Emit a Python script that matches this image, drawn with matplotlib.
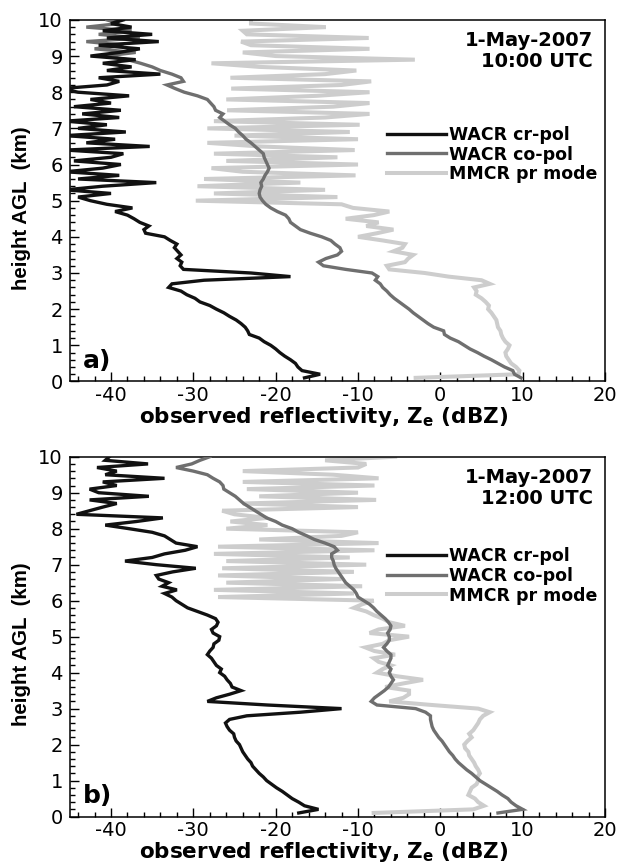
#!/usr/bin/env python3
"""
Radar reflectivity profiles
WACR cross-pol / co-pol and MMCR profiles for 1-May-2007, two times.
"""

import numpy as np
import matplotlib
matplotlib.use('Agg')
import matplotlib.pyplot as plt
from matplotlib.ticker import MultipleLocator

plt.rcParams['font.family'] = ['DejaVu Sans']
plt.rcParams['mathtext.fontset'] = 'dejavusans'
plt.rcParams['axes.unicode_minus'] = False

# range gates (km AGL), 0.1 km spacing
heights = np.linspace(0.1, 10.0, 100)

# ---- 10:00 UTC ----
a_cr_pol = [
    -16.5, -14.6, -16.8, -17.3, -17.6, -18.2, -18.9, -19.5, -20.0, -20.6,
    -21.4, -22.0, -23.2, -23.4, -23.7, -24.2, -24.8, -25.6, -26.3, -27.2,
    -28.0, -29.2, -29.8, -30.8, -31.5, -33.0, -32.6, -28.7, -18.2, -23.0,
    -31.2, -31.6, -31.4, -32.0, -31.5, -31.9, -32.3, -32.0, -32.8, -33.5,
    -35.8, -36.0, -35.4, -36.5, -37.2, -38.0, -39.5, -37.4, -40.5, -42.5,
    -44.0, -40.0, -45.5, -41.0, -34.5, -44.0, -39.0, -45.5, -41.0, -38.8,
    -44.5, -40.0, -38.5, -45.5, -35.3, -43.0, -39.5, -45.5, -38.2, -44.0,
    -40.5, -45.5, -39.0, -43.5, -38.8, -44.5, -40.0, -42.5, -37.8, -44.0,
    -46.0, -40.5, -39.0, -41.5, -34.0, -40.5, -37.5, -41.0, -37.0, -42.5,
    -39.0, -36.5, -41.5, -34.2, -40.5, -35.0, -41.0, -37.5, -40.0, -38.5,
]
a_co_pol = [
    9.8, 9.0, 8.8, 7.8, 7.0, 6.2, 5.3, 4.5, 3.6, 2.9,
    2.2, 1.2, 0.5, 0.4, -0.8, -1.5, -2.1, -2.7, -3.3, -3.8,
    -4.4, -5.0, -5.6, -6.1, -6.5, -7.0, -7.3, -7.9, -7.6, -8.3,
    -11.5, -14.2, -14.8, -13.9, -12.5, -12.0, -12.2, -12.8, -13.3, -14.4,
    -15.8, -17.0, -17.6, -18.2, -18.4, -18.8, -19.8, -20.6, -21.2, -21.6,
    -21.9, -22.0, -21.9, -21.7, -21.8, -21.5, -21.3, -21.0, -20.8, -21.0,
    -21.2, -21.4, -21.5, -22.0, -22.5, -23.0, -23.6, -24.0, -24.5, -24.9,
    -25.6, -26.2, -26.8, -26.4, -27.3, -27.5, -27.9, -28.3, -29.5, -31.1,
    -32.2, -33.2, -31.2, -31.5, -32.6, -34.0, -35.0, -36.4, -38.0, -40.7,
    -37.0, -42.0, -38.5, -43.0, -36.5, -41.5, -37.5, -43.0, -39.0, -40.5,
]
a_mmcr = [
    -3.0, 9.5, 9.6, 9.2, 8.6, 8.3, 8.0, 7.9, 8.2, 8.4,
    7.9, 7.6, 7.4, 7.3, 7.0, 6.9, 6.8, 6.5, 6.2, 5.8,
    5.9, 5.5, 5.0, 4.3, 4.4, 4.1, 6.0, 5.0, 1.0, -1.9,
    -6.2, -6.5, -4.3, -3.9, -3.3, -5.7, -4.6, -4.3, -7.0, -10.0,
    -7.7, -5.7, -9.0, -7.5, -11.5, -8.1, -6.2, -10.6, -12.0, -29.7,
    -12.5, -27.5, -14.0, -29.5, -17.0, -28.7, -10.3, -24.0, -27.8, -10.0,
    -26.0, -12.5, -27.5, -10.4, -22.0, -28.3, -10.0, -25.0, -11.0, -28.3,
    -9.8, -27.5, -14.0, -8.6, -25.9, -13.0, -8.6, -26.0, -15.0, -8.6,
    -25.4, -12.0, -8.4, -25.5, -14.0, -10.2, -22.0, -27.8, -3.1, -20.0,
    -24.0, -8.6, -23.0, -24.2, -8.7, -23.5, -24.0, -13.9, -23.0, -23.0,
]

# ---- 12:00 UTC ----
b_cr_pol = [
    -17.2, -14.8, -16.5, -17.2, -18.0, -18.6, -19.2, -19.9, -20.5, -21.1,
    -21.5, -22.0, -22.4, -22.8, -23.0, -23.4, -23.7, -24.0, -24.2, -24.4,
    -24.8, -25.0, -25.1, -25.6, -25.9, -26.1, -25.6, -23.5, -17.0, -12.0,
    -21.0, -28.3, -27.2, -25.6, -24.2, -25.3, -25.5, -25.9, -26.2, -26.8,
    -26.6, -27.2, -27.5, -27.8, -28.3, -28.0, -27.6, -27.5, -26.9, -26.8,
    -27.6, -27.8, -27.2, -27.0, -27.3, -28.3, -29.5, -30.7, -31.4, -32.1,
    -32.6, -33.5, -32.0, -33.8, -33.0, -34.2, -34.5, -32.5, -29.7, -34.5,
    -38.3, -35.0, -33.5, -31.0, -29.5, -32.1, -32.8, -33.5, -35.0, -37.8,
    -40.7, -36.9, -33.7, -44.2, -42.6, -41.0, -39.3, -42.6, -35.4, -41.5,
    -42.6, -39.3, -41.0, -33.5, -40.7, -39.3, -41.7, -35.5, -40.7, -40.2,
]
b_co_pol = [
    7.0, 10.0, 9.2, 8.6, 8.2, 7.5, 6.9, 6.2, 5.5, 4.8,
    4.3, 3.8, 3.2, 2.7, 2.2, 1.8, 1.5, 1.1, 0.8, 0.5,
    0.2, -0.2, -0.5, -0.8, -1.0, -1.1, -1.2, -1.2, -1.8, -3.0,
    -7.7, -8.4, -8.0, -7.4, -6.8, -6.3, -6.0, -5.7, -6.0, -6.2,
    -6.0, -6.4, -6.2, -6.0, -6.0, -6.5, -6.9, -6.5, -6.2, -6.2,
    -6.4, -6.1, -6.0, -6.3, -6.7, -7.2, -7.7, -8.1, -8.6, -9.3,
    -10.0, -10.2, -10.5, -11.0, -11.5, -11.8, -12.1, -12.4, -12.7, -12.9,
    -13.0, -13.2, -13.2, -12.5, -12.9, -14.0, -15.3, -16.2, -17.2, -18.0,
    -19.2, -20.0, -21.1, -21.8, -22.5, -23.2, -23.9, -24.4, -24.9, -25.6,
    -26.3, -26.4, -26.8, -27.6, -28.3, -30.0, -32.1, -30.2, -29.2, -28.0,
]
b_mmcr = [
    -8.1, 4.0, 5.3, 4.6, 4.2, 3.4, 3.6, 3.8, 4.4, 4.6,
    4.5, 4.8, 4.6, 4.3, 4.1, 3.8, 3.5, 3.4, 3.0, 2.9,
    3.3, 3.8, 3.5, 4.0, 4.3, 4.6, 4.8, 5.2, 6.0, 4.6,
    -1.0, -6.2, -4.5, -3.8, -3.8, -6.7, -4.5, -2.1, -5.3, -7.7,
    -7.0, -6.0, -7.5, -8.1, -5.5, -8.0, -9.1, -7.0, -6.2, -3.8,
    -8.6, -7.5, -4.3, -6.2, -7.0, -8.1, -9.0, -10.5, -9.5, -8.1,
    -27.0, -10.5, -27.5, -9.5, -26.0, -12.0, -27.0, -10.5, -26.5, -9.0,
    -26.0, -11.0, -27.5, -8.0, -27.0, -7.5, -22.0, -12.0, -10.0, -26.0,
    -21.0, -25.5, -21.0, -25.0, -26.5, -10.0, -24.0, -7.8, -22.0, -10.0,
    -23.5, -8.0, -24.0, -7.5, -13.0, -24.0, -10.0, -9.0, -14.0, -5.5,
]

series_labels = ['WACR cr-pol', 'WACR co-pol', 'MMCR pr mode']
series_colors = ['#111111', '#6f6f6f', '#cdcdcd']
series_widths = [2.4, 2.4, 2.9]


def draw_panel(ax, cr, co, mmcr, time_str, tag, legend_top):
    """One profile panel."""
    # light first, black on top
    ax.plot(mmcr, heights, color=series_colors[2], lw=series_widths[2],
            solid_joinstyle='miter', zorder=2)
    ax.plot(co, heights, color=series_colors[1], lw=series_widths[1],
            solid_joinstyle='miter', zorder=3)
    ax.plot(cr, heights, color=series_colors[0], lw=series_widths[0],
            solid_joinstyle='miter', zorder=4)

    ax.set_xlim(-45, 20)
    ax.set_ylim(0, 10)
    ax.xaxis.set_major_locator(MultipleLocator(10))
    ax.xaxis.set_minor_locator(MultipleLocator(2))
    ax.yaxis.set_major_locator(MultipleLocator(1))
    ax.yaxis.set_minor_locator(MultipleLocator(0.2))
    ax.tick_params(which='both', direction='in', top=False, right=False,
                   width=1.0, labelsize=14)
    ax.tick_params(which='major', length=6.5)
    ax.tick_params(which='minor', length=3.5)
    ax.tick_params(axis='x', pad=3)
    ax.tick_params(axis='y', pad=5)
    for sp in ax.spines.values():
        sp.set_linewidth(1.1)

    ax.set_xlabel(r'observed reflectivity, Z$_\mathbf{e}$ (dBZ)',
                  fontsize=15.5, fontweight='bold')
    ax.xaxis.set_label_coords(0.475, -0.064)
    ax.set_ylabel('height AGL  (km)', fontsize=14.8, fontweight='bold',
                  family=['Liberation Sans', 'DejaVu Sans'])
    ax.yaxis.set_label_coords(-0.072, 0.48)

    # legend built from the line styles
    handles = [plt.Line2D([], [], color=c, lw=w)
               for c, w in zip(series_colors, series_widths)]
    ax.legend(handles, series_labels, loc='upper left',
              bbox_to_anchor=(0.592, legend_top), frameon=False,
              prop={'weight': 'bold', 'size': 12.5},
              handlelength=3.4, handletextpad=0.2, labelspacing=0.1,
              borderpad=0, borderaxespad=0)

    ax.text(0.978, 0.913, '1-May-2007\n' + time_str, transform=ax.transAxes,
            ha='right', va='center', fontsize=14.0, fontweight='bold',
            linespacing=1.15)
    ax.text(0.024, 0.024, tag, transform=ax.transAxes, ha='left',
            va='bottom', fontsize=18, fontweight='bold')


def main():
    fig = plt.figure(figsize=(6.18, 8.65), dpi=100)
    ax_a = fig.add_axes([0.113, 0.559, 0.866, 0.418])
    ax_b = fig.add_axes([0.113, 0.056, 0.866, 0.416])

    draw_panel(ax_a, a_cr_pol, a_co_pol, a_mmcr, '10:00 UTC', 'a)', 0.707)
    draw_panel(ax_b, b_cr_pol, b_co_pol, b_mmcr, '12:00 UTC', 'b)', 0.749)

    fig.savefig('out.png', dpi=100)


if __name__ == '__main__':
    main()
